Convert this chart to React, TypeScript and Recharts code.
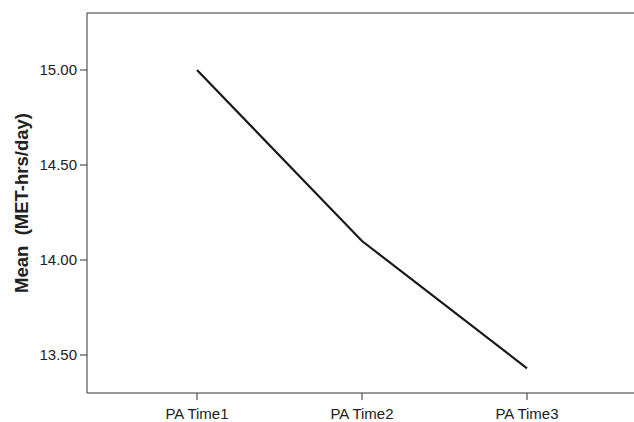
import { Line, LineChart, ReferenceLine, XAxis, YAxis } from "recharts";

const categories = ["PA Time1", "PA Time2", "PA Time3"];
const means = [15.0, 14.1, 13.43];
const yTicks = [13.5, 14.0, 14.5, 15.0];

const data = categories.map((label, i) => ({ label, mean: means[i] }));

const font = "'Liberation Sans', Arial, sans-serif";

function YLabel({ viewBox }: any) {
  const cy = viewBox.y + viewBox.height / 2;
  return (
    <text
      x={28}
      y={cy}
      transform={`rotate(-90, 28, ${cy})`}
      textAnchor="middle"
      fontFamily={font}
      fontSize={18.5}
      fontWeight="bold"
      fill="#222"
      style={{ whiteSpace: "pre" }}
    >
      {"Mean  (MET-hrs/day)"}
    </text>
  );
}

export default function App() {
  return (
    <div style={{ position: "absolute", left: 0, top: 0, background: "#fff" }}>
      <LineChart width={634} height={422} data={data} margin={{ top: 13, right: 0, bottom: 0, left: 0 }}>
        <XAxis
          dataKey="label"
          height={29}
          padding={{ left: 110, right: 107 }}
          stroke="#333"
          tickSize={7}
          tickMargin={8}
          tick={{ fontSize: 15, fontFamily: font, fill: "#222" }}
        />
        <YAxis
          width={87}
          domain={[13.3, 15.3]}
          ticks={yTicks}
          tickFormatter={(v: number) => v.toFixed(2)}
          stroke="#333"
          tickSize={7}
          tickMargin={3}
          tick={{ fontSize: 15, fontFamily: font, fill: "#222" }}
          label={{ content: YLabel }}
        />
        <ReferenceLine y={15.3} stroke="#333" />
        <Line
          dataKey="mean"
          stroke="#1a1a1a"
          strokeWidth={2.2}
          dot={false}
          activeDot={false}
          isAnimationActive={false}
        />
      </LineChart>
    </div>
  );
}
